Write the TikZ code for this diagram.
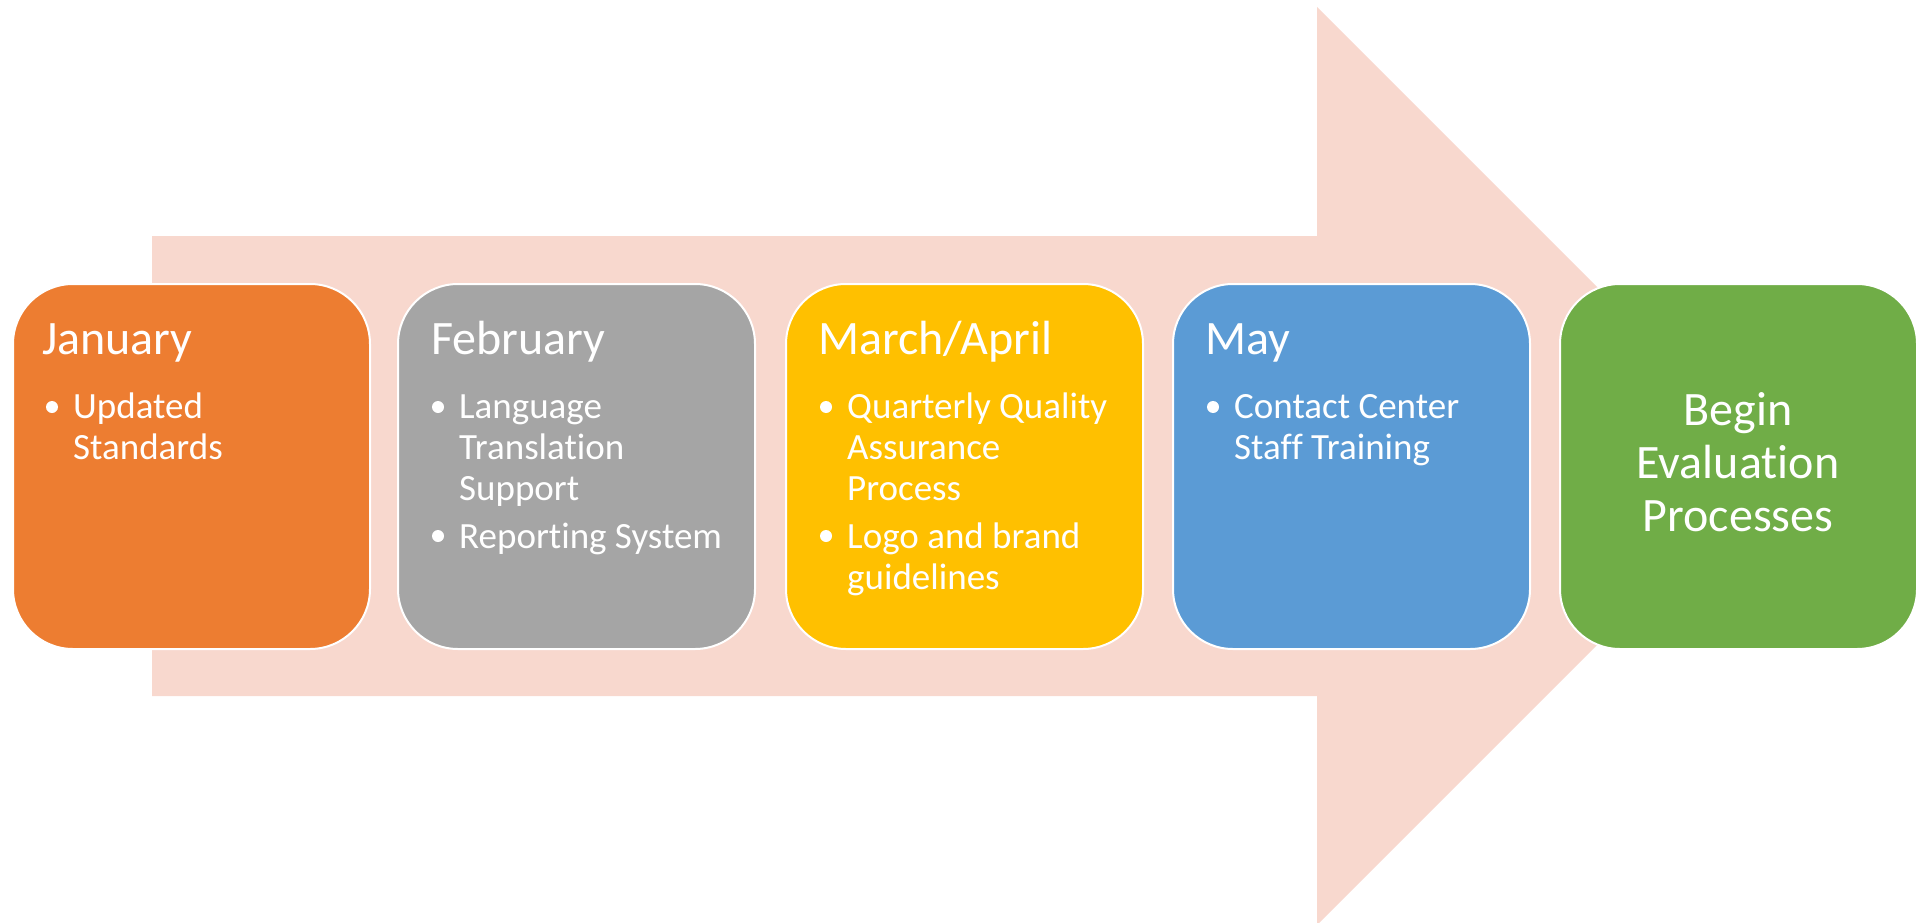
\documentclass[tikz,border=0pt]{standalone}
\usepackage{fontspec}
\setmainfont[Ligatures=NoCommon]{Carlito}
\definecolor{arrowc}{HTML}{F8D8CE}
\definecolor{orangec}{HTML}{ED7D31}
\definecolor{grayc}{HTML}{A5A5A5}
\definecolor{yellowc}{HTML}{FFC000}
\definecolor{bluec}{HTML}{5B9BD5}
\definecolor{greenc}{HTML}{70AD47}
\begin{document}
\begin{tikzpicture}[x=1pt,y=-1pt,
  monthbox/.style={draw=white, line width=2pt, rounded corners=60pt, minimum width=357pt, minimum height=365pt, inner sep=0pt, anchor=north west},
  titletext/.style={anchor=base west, inner sep=0pt, text=white, font=\fontsize{48}{56}\selectfont},
  itemtext/.style={anchor=base west, inner sep=0pt, text=white, font=\fontsize{37}{41}\selectfont},
  bulletdot/.style={circle, fill=white, inner sep=0pt, minimum size=12pt}
]
\useasboundingbox (0,0) rectangle (1929,923);
\begin{scope}
\clip (0,0) rectangle (1929,923);
\fill[arrowc] (152,236) -- (1317,236) -- (1317,7) -- (1776,466) -- (1317,925) -- (1317,696) -- (152,696) -- cycle;
\end{scope}

% boxes
\node[monthbox, fill=orangec] (jan) at (12,283) {};
\node[monthbox, fill=grayc] (feb) at (397,283) {};
\node[monthbox, fill=yellowc] (mar) at (785,283) {};
\node[monthbox, fill=bluec] (may) at (1172,283) {};
\node[monthbox, fill=greenc] (beg) at (1559,283) {};

% January
\node[titletext] (jant) at (42,354) {January};
\node[bulletdot] (janb1) at (52,407) {};
\node[itemtext] (jani1) at (73,418) {\parbox[t]{280pt}{\raggedright Updated\\Standards}};

% February
\node[titletext] (febt) at (431,354) {February};
\node[bulletdot] (febb1) at (438,407) {};
\node[itemtext] (febi1) at (459,418) {\parbox[t]{290pt}{\raggedright Language\\Translation\\Support}};
\node[bulletdot] (febb2) at (438,536) {};
\node[itemtext] (febi2) at (459,548) {Reporting System};

% March/April
\node[titletext] (mart) at (818,354) {March/April};
\node[bulletdot] (marb1) at (826,407) {};
\node[itemtext] (mari1) at (847,418) {\parbox[t]{290pt}{\raggedright Quarterly Quality\\Assurance\\Process}};
\node[bulletdot] (marb2) at (826,536) {};
\node[itemtext] (mari2) at (847,548) {\parbox[t]{290pt}{\raggedright Logo and brand\\guidelines}};

% May
\node[titletext] (mayt) at (1205,354) {May};
\node[bulletdot] (mayb1) at (1213,407) {};
\node[itemtext] (mayi1) at (1234,418) {\parbox[t]{290pt}{\raggedright Contact Center\\Staff Training}};

% Begin
\node[anchor=base, inner sep=0pt, text=white, font=\fontsize{48}{53}\selectfont] (begt) at (1738,425) {\parbox[t]{340pt}{\centering Begin\\Evaluation\\Processes}};
\end{tikzpicture}
\end{document}
